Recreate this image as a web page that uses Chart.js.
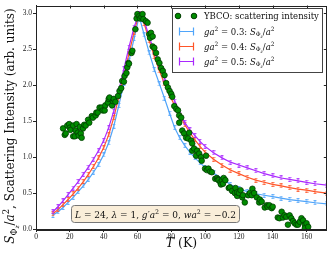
<!DOCTYPE html>
<html>
<head>
<meta charset="utf-8">
<script src="https://cdn.jsdelivr.net/npm/chart.js@4.4.0/dist/chart.umd.min.js"></script>
<style>
    html, body { margin: 0; padding: 0; background: #fff; }
</style>
</head>
<body>
<canvas id="chart" width="332" height="263"></canvas>
<script>
// YBCO 측정값 (T, intensity)
var ybcoTemp = [16, 17, 17.6, 18.5, 19.6, 20, 20.4, 22, 22, 23, 23.5, 24, 24.7, 25.3, 25.9, 26.5, 27, 27.8, 28.5, 29.4,
    30.8, 31.5, 33, 33.7, 35.3, 35.7, 36.5, 37.6, 38.8, 39.5, 40.6, 41, 42.5, 43, 43.5, 45, 45.5, 46, 47, 48.5,
    49.4, 50.4, 51, 52, 52.4, 53.5, 54, 54.7, 55, 56.5, 57, 58.8, 59.5, 60, 61, 61.5, 62.4, 63, 63.5, 65,
    66, 67, 67.5, 68, 69, 69, 70, 71, 72, 73, 74, 75, 76, 77, 78, 79, 80, 80.6, 81.8, 83,
    84, 84.7, 85.9, 84.7, 86.5, 87.6, 88.8, 90, 90.6, 91.8, 92.4, 92.4, 93.5, 94.7, 95.3, 96.5, 97.6, 98, 100, 100.6,
    101, 102, 103, 104, 106, 107, 107.6, 108, 109, 109.4, 110, 110.6, 111, 112, 114, 114.7, 116, 117.6, 118, 119,
    119, 120, 121, 122, 122.4, 123.5, 125.5, 126.5, 127.6, 128, 129, 130.6, 132, 132.4, 133.5, 135.3, 136.5, 137, 138, 139.4,
    140, 143, 144, 145.3, 146, 147, 148, 149, 150, 151, 152, 153, 154, 155, 156, 157, 158, 159, 159, 160, 161];
var ybcoIntensity = [1.40, 1.31, 1.33, 1.44, 1.46, 1.41, 1.38, 1.44, 1.29, 1.29, 1.37, 1.46, 1.34, 1.30, 1.42, 1.33, 1.27, 1.40, 1.45, 1.44,
    1.52, 1.48, 1.57, 1.55, 1.58, 1.62, 1.62, 1.69, 1.69, 1.65, 1.65, 1.72, 1.76, 1.81, 1.83, 1.72, 1.78, 1.81, 1.77, 1.85,
    1.92, 1.96, 2.06, 2.05, 2.13, 2.17, 2.25, 2.31, 2.30, 2.45, 2.48, 2.78, 2.93, 2.99, 2.96, 2.93, 2.95, 2.99, 2.92, 2.89,
    2.87, 2.71, 2.66, 2.73, 2.68, 2.54, 2.52, 2.45, 2.36, 2.31, 2.24, 2.20, 2.14, 2.03, 1.97, 1.92, 1.88, 1.84, 1.71, 1.67,
    1.65, 1.58, 1.55, 1.48, 1.37, 1.33, 1.27, 1.26, 1.34, 1.23, 1.19, 1.09, 1.12, 1.02, 1.09, 1.05, 1.00, 0.95, 0.84, 1.02,
    0.82, 0.84, 0.80, 0.79, 0.70, 0.71, 0.69, 0.68, 0.65, 0.62, 0.68, 0.63, 0.71, 0.68, 0.57, 0.58, 0.53, 0.50, 0.57, 0.46,
    0.51, 0.50, 0.54, 0.44, 0.47, 0.37, 0.47, 0.50, 0.47, 0.56, 0.50, 0.44, 0.37, 0.41, 0.38, 0.30, 0.33, 0.31, 0.33, 0.29,
    0.31, 0.16, 0.15, 0.24, 0.16, 0.19, 0.17, 0.06, 0.19, 0.15, 0.11, 0.08, 0.06, 0.06, 0.10, 0.15, 0.12, 0.06, 0.01, 0.08, 0.03];

// 모델 곡선 S_Phi_z / a^2
var modelTemp = [10, 13, 16, 19, 22, 25, 28, 31, 34, 37, 40, 43, 46, 49, 52, 55, 58, 61,
    64, 67, 70, 73, 76, 79, 82, 85, 88, 91, 94, 97, 100,
    105, 110, 115, 120, 125, 130, 135, 140, 145, 150, 155, 160, 165, 172];
var model03 = [0.19, 0.24, 0.30, 0.37, 0.44, 0.52, 0.60, 0.69, 0.79, 0.90, 1.03, 1.20, 1.43, 1.72, 2.03, 2.34, 2.65, 2.96,
    2.70, 2.45, 2.22, 2.02, 1.82, 1.61, 1.41, 1.27, 1.16, 1.07, 0.99, 0.92, 0.86,
    0.78, 0.70, 0.62, 0.56, 0.52, 0.49, 0.47, 0.45, 0.43, 0.41, 0.395, 0.38, 0.365, 0.35];
var model04 = [0.21, 0.27, 0.34, 0.41, 0.49, 0.57, 0.66, 0.76, 0.87, 0.99, 1.13, 1.31, 1.55, 1.84, 2.14, 2.44, 2.74, 3.00,
    2.86, 2.62, 2.40, 2.20, 2.02, 1.86, 1.72, 1.58, 1.45, 1.34, 1.24, 1.15, 1.07,
    0.97, 0.89, 0.82, 0.77, 0.72, 0.68, 0.65, 0.62, 0.60, 0.575, 0.555, 0.54, 0.52, 0.50];
var model05 = [0.24, 0.31, 0.39, 0.48, 0.57, 0.66, 0.76, 0.86, 0.97, 1.09, 1.23, 1.41, 1.64, 1.93, 2.23, 2.53, 2.81, 3.00,
    2.90, 2.67, 2.47, 2.28, 2.10, 1.93, 1.78, 1.60, 1.48, 1.38, 1.30, 1.22, 1.15,
    1.06, 0.99, 0.93, 0.89, 0.85, 0.81, 0.77, 0.74, 0.71, 0.69, 0.67, 0.65, 0.63, 0.61];
var couplings = ['0.3', '0.4', '0.5'];

var xTicks = [0, 20, 40, 60, 80, 100, 120, 140, 160];
var yTicks = [0, 0.5, 1.0, 1.5, 2.0, 2.5, 3.0];

var FONT = '"DejaVu Serif", serif';
var TICKFONT = '"Liberation Serif", serif';
var green = 'rgb(0,140,0)';
var colors = ['rgb(80,165,250)', 'rgb(255,85,40)', 'rgb(170,40,255)'];
var models = [model03, model04, model05];

// 에러바 모양 마커
function barMarker(color) {
    var c = document.createElement('canvas');
    c.width = 4; c.height = 5;
    var g = c.getContext('2d');
    g.strokeStyle = color;
    g.lineWidth = 0.8;
    g.beginPath();
    g.moveTo(2, 0); g.lineTo(2, 5);
    g.moveTo(0.5, 0.5); g.lineTo(3.5, 0.5);
    g.moveTo(0.5, 4.5); g.lineTo(3.5, 4.5);
    g.stroke();
    return c;
}

// 윗첨자/아랫첨자 텍스트
function rich(ctx, parts, x, y, size, draw) {
    var cx = x;
    parts.forEach(function (p) {
        var st = p[1] || '', s = size, dy = 0;
        if (st.indexOf('^') >= 0) { s = size * 0.7; dy = -size * 0.4; }
        if (st.indexOf('_') >= 0) { s = size * 0.7; dy = size * 0.22; }
        if (st.indexOf('%') >= 0) { s = size * 0.5; dy = size * 0.4; }
        ctx.font = (st.indexOf('i') >= 0 ? 'italic ' : '') + s + 'px ' + FONT;
        if (draw) ctx.fillText(p[0], cx, y + dy);
        cx += ctx.measureText(p[0]).width;
    });
    return cx - x;
}

function labelParts(k) {
    return [['ga', 'i'], ['2', '^'], [' = ' + couplings[k] + ': ', ''], ['S', 'i'], ['Φ', '_'], ['z', '%i'], ['/', ''], ['a', 'i'], ['2', '^']];
}

var decor = {
    id: 'decor',
    afterDraw: function (chart) {
        var ctx = chart.ctx, a = chart.chartArea;
        var xs = chart.scales.x, ys = chart.scales.y;
        ctx.save();
        // 테두리 + 위/오른쪽 눈금
        ctx.strokeStyle = '#222';
        ctx.lineWidth = 1;
        ctx.strokeRect(Math.round(a.left) + 0.5, Math.round(a.top) + 0.5, Math.round(a.right - a.left) - 1, Math.round(a.bottom - a.top));
        ctx.beginPath();
        xTicks.forEach(function (t) {
            var px = Math.round(xs.getPixelForValue(t)) + 0.5;
            ctx.moveTo(px, a.top); ctx.lineTo(px, a.top + 3);
        });
        yTicks.forEach(function (t) {
            var py = Math.round(ys.getPixelForValue(t)) + 0.5;
            ctx.moveTo(a.right, py); ctx.lineTo(a.right - 3, py);
        });
        ctx.stroke();

        ctx.fillStyle = '#111';
        ctx.textBaseline = 'alphabetic';
        // 축 제목
        var xt = [['T', 'i'], [' (K)', '']];
        var w = rich(ctx, xt, 0, 0, 12.5, false);
        rich(ctx, xt, (a.left + a.right) / 2 - w / 2, 247, 12.5, true);

        var yt = [['S', 'i'], ['Φ', '_'], ['z', '%i'], ['/', ''], ['a', 'i'], ['2', '^'], [', Scattering Intensity (arb. units)', '']];
        ctx.save();
        ctx.translate(14, 126);
        ctx.rotate(-Math.PI / 2);
        w = rich(ctx, yt, 0, 0, 12, false);
        rich(ctx, yt, -w / 2, 0, 12, true);
        ctx.restore();

        // 범례
        ctx.fillStyle = '#fff';
        ctx.strokeStyle = '#444';
        ctx.fillRect(172.5, 8.5, 150, 64);
        ctx.strokeRect(172.5, 8.5, 150, 64);
        var rowY = [16, 31, 46, 61];
        ctx.fillStyle = green;
        ctx.strokeStyle = 'rgb(0,60,0)';
        [178, 194].forEach(function (cx) {
            ctx.beginPath();
            ctx.arc(cx, rowY[0], 2.8, 0, Math.PI * 2);
            ctx.fill(); ctx.stroke();
        });
        ctx.fillStyle = '#111';
        rich(ctx, [['YBCO: scattering intensity', '']], 204, rowY[0] + 3, 8.5, true);
        for (var k = 0; k < 3; k++) {
            var y = rowY[k + 1] + 0.5;
            ctx.strokeStyle = colors[k];
            ctx.lineWidth = 1.2;
            ctx.beginPath();
            ctx.moveTo(179, y); ctx.lineTo(194, y);
            ctx.moveTo(179.5, y - 4); ctx.lineTo(179.5, y + 4);
            ctx.moveTo(193.5, y - 4); ctx.lineTo(193.5, y + 4);
            ctx.stroke();
            ctx.fillStyle = '#111';
            rich(ctx, labelParts(k), 204, y + 3, 8.5, true);
        }

        // 파라미터 박스
        ctx.fillStyle = 'rgb(250,238,217)';
        ctx.strokeStyle = '#777';
        ctx.lineWidth = 1;
        ctx.beginPath();
        ctx.roundRect(71.5, 205.5, 168, 17, 3);
        ctx.fill(); ctx.stroke();
        ctx.fillStyle = '#111';
        var ann = [['L', 'i'], [' = 24, ', ''], ['λ', 'i'], [' = 1, ', ''], ['g′a', 'i'], ['2', '^'], [' = 0, ', ''],
            ['wa', 'i'], ['2', '^'], [' = −0.2', '']];
        w = rich(ctx, ann, 0, 0, 9, false);
        rich(ctx, ann, 155.5 - w / 2, 217.5, 9, true);
        ctx.restore();
    }
};

var datasets = [{
    data: ybcoTemp.map(function (t, i) { return {x: t, y: ybcoIntensity[i]}; }),
    showLine: false,
    pointRadius: 2.8,
    pointBackgroundColor: green,
    pointBorderColor: 'rgb(0,60,0)',
    pointBorderWidth: 0.8
}];
for (var k = 2; k >= 0; k--) {
    datasets.push({
        data: modelTemp.map(function (t, i) { return {x: t, y: models[k][i]}; }),
        showLine: true,
        borderColor: colors[k],
        borderWidth: 1.2,
        pointStyle: barMarker(colors[k]),
        pointRadius: 2
    });
}

new Chart(document.getElementById('chart').getContext('2d'), {
    type: 'scatter',
    data: {datasets: datasets},
    options: {
        responsive: false,
        animation: false,
        devicePixelRatio: 1,
        layout: {padding: {top: 4, right: 4, left: 0, bottom: 0}},
        plugins: {legend: {display: false}, tooltip: {enabled: false}},
        scales: {
            x: {
                type: 'linear', min: 0, max: 172,
                afterBuildTicks: function (s) { s.ticks = xTicks.map(function (v) { return {value: v}; }); },
                afterFit: function (s) { s.height = 34; },
                grid: {drawOnChartArea: false, tickLength: 3, color: '#222'},
                border: {color: '#222'},
                ticks: {font: {family: TICKFONT, size: 7.5}, color: '#222', padding: 1, maxRotation: 0,
                    callback: function (v) { return String(v); }}
            },
            y: {
                type: 'linear', min: 0, max: 3.11,
                afterBuildTicks: function (s) { s.ticks = yTicks.map(function (v) { return {value: v}; }); },
                afterFit: function (s) { s.width = 36; },
                grid: {drawOnChartArea: false, tickLength: 3, color: '#222'},
                border: {color: '#222'},
                ticks: {font: {family: TICKFONT, size: 7.5}, color: '#222', padding: 1,
                    callback: function (v) { return v.toFixed(1); }}
            }
        }
    },
    plugins: [decor]
});
</script>
</body>
</html>
